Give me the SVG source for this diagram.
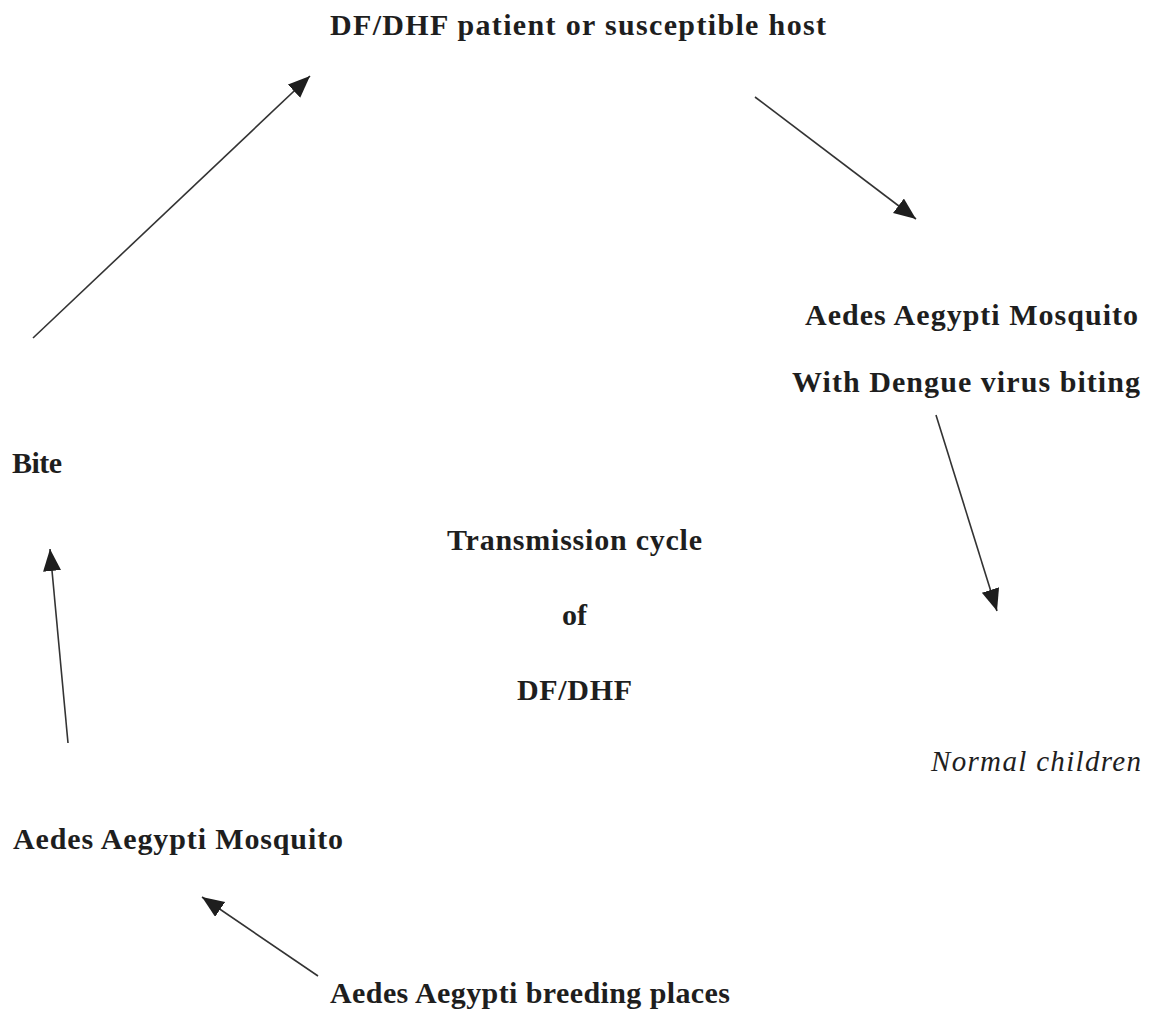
<svg xmlns="http://www.w3.org/2000/svg" width="1154" height="1011" viewBox="0 0 1154 1011">
<style>
.t{font-family:"Liberation Serif","Times New Roman",serif;font-weight:bold;font-size:30px;fill:#1e1e1e}
.i{font-family:"Liberation Serif","Times New Roman",serif;font-style:italic;font-size:29px;fill:#1e1e1e}
.c{stroke:#333;stroke-width:1.6;fill:none;marker-end:url(#ah)}
</style>
<defs>
<marker id="ah" markerUnits="userSpaceOnUse" markerWidth="24" markerHeight="20" refX="22" refY="9" orient="auto">
<path d="M0,0 L22,9 L0,18 z" fill="#1e1e1e"/>
</marker>
</defs>
<rect width="1154" height="1011" fill="#fff"/>
<g id="connectors">
<line class="c" x1="33" y1="338" x2="310" y2="76"/>
<line class="c" x1="755" y1="97" x2="916" y2="219"/>
<line class="c" x1="936" y1="415" x2="997" y2="611"/>
<line class="c" x1="68" y1="743" x2="50" y2="549"/>
<line class="c" x1="318" y1="976" x2="202" y2="897"/>
</g>
<g id="host"><text class="t" x="330" y="35" textLength="496" lengthAdjust="spacing">DF/DHF patient or susceptible host</text></g>
<g id="infected-mosquito">
<text class="t" x="805" y="325" textLength="333" lengthAdjust="spacing">Aedes Aegypti Mosquito</text>
<text class="t" x="792" y="392" textLength="348" lengthAdjust="spacing">With Dengue virus biting</text>
</g>
<g id="bite"><text class="t" x="12" y="473" textLength="50" lengthAdjust="spacing">Bite</text></g>
<g id="center">
<text class="t" x="447" y="550" textLength="255" lengthAdjust="spacing">Transmission cycle</text>
<text class="t" x="562" y="625">of</text>
<text class="t" x="517" y="700" textLength="115" lengthAdjust="spacing">DF/DHF</text>
</g>
<g id="children"><text class="i" x="931" y="771" textLength="210" lengthAdjust="spacing">Normal children</text></g>
<g id="mosquito"><text class="t" x="13" y="849" textLength="330" lengthAdjust="spacing">Aedes Aegypti Mosquito</text></g>
<g id="breeding"><text class="t" x="330" y="1003" textLength="400" lengthAdjust="spacing">Aedes Aegypti breeding places</text></g>
</svg>
